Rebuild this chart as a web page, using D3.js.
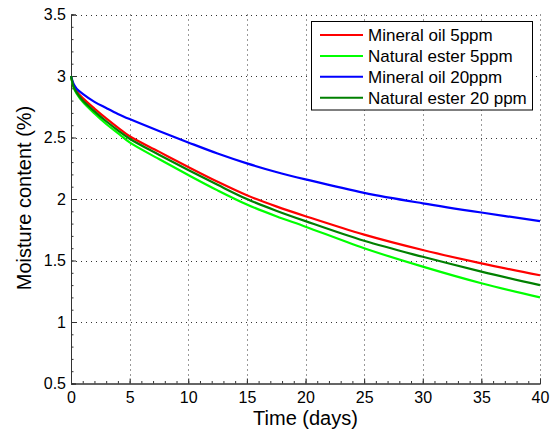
<!DOCTYPE html>
<html><head><meta charset="utf-8">
<script src="https://cdn.jsdelivr.net/npm/d3@7"></script>
<style>body{margin:0;background:#fff}svg{display:block}text{font-family:"Liberation Sans",Arial,sans-serif}</style>
</head><body><svg id="c" width="557" height="429"></svg>
<script>
const days = [0, 0.25, 0.5, 1, 2, 3, 4, 5, 7.5, 10, 12.5, 15, 17.5, 20, 25, 30, 35, 40];
const mineralOil5 = [3.0, 2.91, 2.872, 2.82, 2.735, 2.655, 2.58, 2.51, 2.385, 2.26, 2.14, 2.03, 1.94, 1.86, 1.71, 1.585, 1.477, 1.38];
const naturalEster5 = [3.0, 2.90, 2.855, 2.79, 2.695, 2.61, 2.535, 2.46, 2.325, 2.195, 2.07, 1.955, 1.86, 1.775, 1.60, 1.45, 1.315, 1.20];
const mineralOil20 = [3.0, 2.93, 2.895, 2.855, 2.79, 2.74, 2.692, 2.65, 2.553, 2.46, 2.37, 2.29, 2.22, 2.16, 2.05, 1.965, 1.89, 1.82];
const naturalEster20 = [3.0, 2.905, 2.862, 2.80, 2.713, 2.632, 2.558, 2.49, 2.36, 2.235, 2.115, 2.0, 1.905, 1.82, 1.66, 1.53, 1.41, 1.30];
const seriesNames = ["Mineral oil 5ppm", "Natural ester 5ppm", "Mineral oil 20ppm", "Natural ester 20 ppm"];
const seriesColors = ["#ff0000", "#00ff00", "#0000ff", "#008000"];
const xTicks = [0, 5, 10, 15, 20, 25, 30, 35, 40];
const yTicks = [0.5, 1, 1.5, 2, 2.5, 3, 3.5];

const allSeries = [mineralOil5, naturalEster5, mineralOil20, naturalEster20];
const svg = d3.select("#c");
const L = 71, R = 540, T = 14.5, B = 383.5;
const x = d3.scaleLinear().domain([0, 40]).range([L, R]);
const y = d3.scaleLinear().domain([0.5, 3.5]).range([B, T]);

// grid
const g = svg.append("g");
g.selectAll(".vg").data(xTicks.slice(1)).enter().append("line")
  .attr("x1", d => Math.round(x(d)) + 0.5).attr("x2", d => Math.round(x(d)) + 0.5)
  .attr("y1", T).attr("y2", B).attr("stroke", "#333").attr("stroke-width", 1).attr("stroke-dasharray", "1,4");
g.selectAll(".hg").data(yTicks.slice(1)).enter().append("line")
  .attr("y1", d => Math.round(y(d)) + 0.5).attr("y2", d => Math.round(y(d)) + 0.5)
  .attr("x1", L).attr("x2", R).attr("stroke", "#333").attr("stroke-width", 1).attr("stroke-dasharray", "1,4");

// axes
const xAxis = d3.axisBottom(x).tickValues(xTicks).tickSize(-5).tickPadding(8.5).tickFormat(d3.format("d"));
const yAxis = d3.axisLeft(y).tickValues(yTicks).tickSize(-5).tickPadding(5).tickFormat(d => d);
const xMinor = d3.axisBottom(x).tickValues(d3.range(0, 41, 1)).tickSize(-2.5).tickFormat("");
const yMinor = d3.axisLeft(y).tickValues(d3.range(5, 36, 1).map(v => v / 10)).tickSize(-2.5).tickFormat("");
function style(sel) {
  sel.select(".domain").attr("stroke", "#333").attr("stroke-width", 1);
  sel.selectAll(".tick line").attr("stroke", "#333");
  sel.selectAll("text").attr("font-size", "16px").attr("fill", "#000").attr("font-family", '"Liberation Sans",Arial,sans-serif');
}
svg.append("g").attr("transform", `translate(0,${B})`).call(xMinor).call(style);
svg.append("g").attr("transform", `translate(${L},0)`).call(yMinor).call(style);
svg.append("g").attr("transform", `translate(0,${B})`).call(xAxis).call(style);
svg.append("g").attr("transform", `translate(${L},0)`).call(yAxis).call(style);

// lines
const line = d3.line().x((d, i) => x(days[i])).y(d => y(d)).curve(d3.curveCatmullRom.alpha(0.5));
allSeries.forEach((s, i) => {
  svg.append("path").datum(s).attr("d", line).attr("fill", "none")
    .attr("stroke", seriesColors[i]).attr("stroke-width", 2.2);
});

// axis titles
svg.append("text").attr("x", (L + R) / 2).attr("y", 425).attr("text-anchor", "middle")
  .attr("font-size", "20px").text("Time (days)");
svg.append("text").attr("transform", "translate(31,198) rotate(-90)").attr("text-anchor", "middle")
  .attr("font-size", "20px").text("Moisture content (%)");

// legend
const lg = svg.append("g");
lg.append("rect").attr("x", 311.5).attr("y", 21.5).attr("width", 221).attr("height", 88.5)
  .attr("fill", "#fff").attr("stroke", "#000").attr("stroke-width", 1);
seriesNames.forEach((n, i) => {
  const cy = 35 + i * 20.9;
  lg.append("line").attr("x1", 320).attr("x2", 363).attr("y1", cy).attr("y2", cy)
    .attr("stroke", seriesColors[i]).attr("stroke-width", 2);
  lg.append("text").attr("x", 368).attr("y", cy + 6).attr("font-size", "17px").text(n);
});
</script></body></html>
